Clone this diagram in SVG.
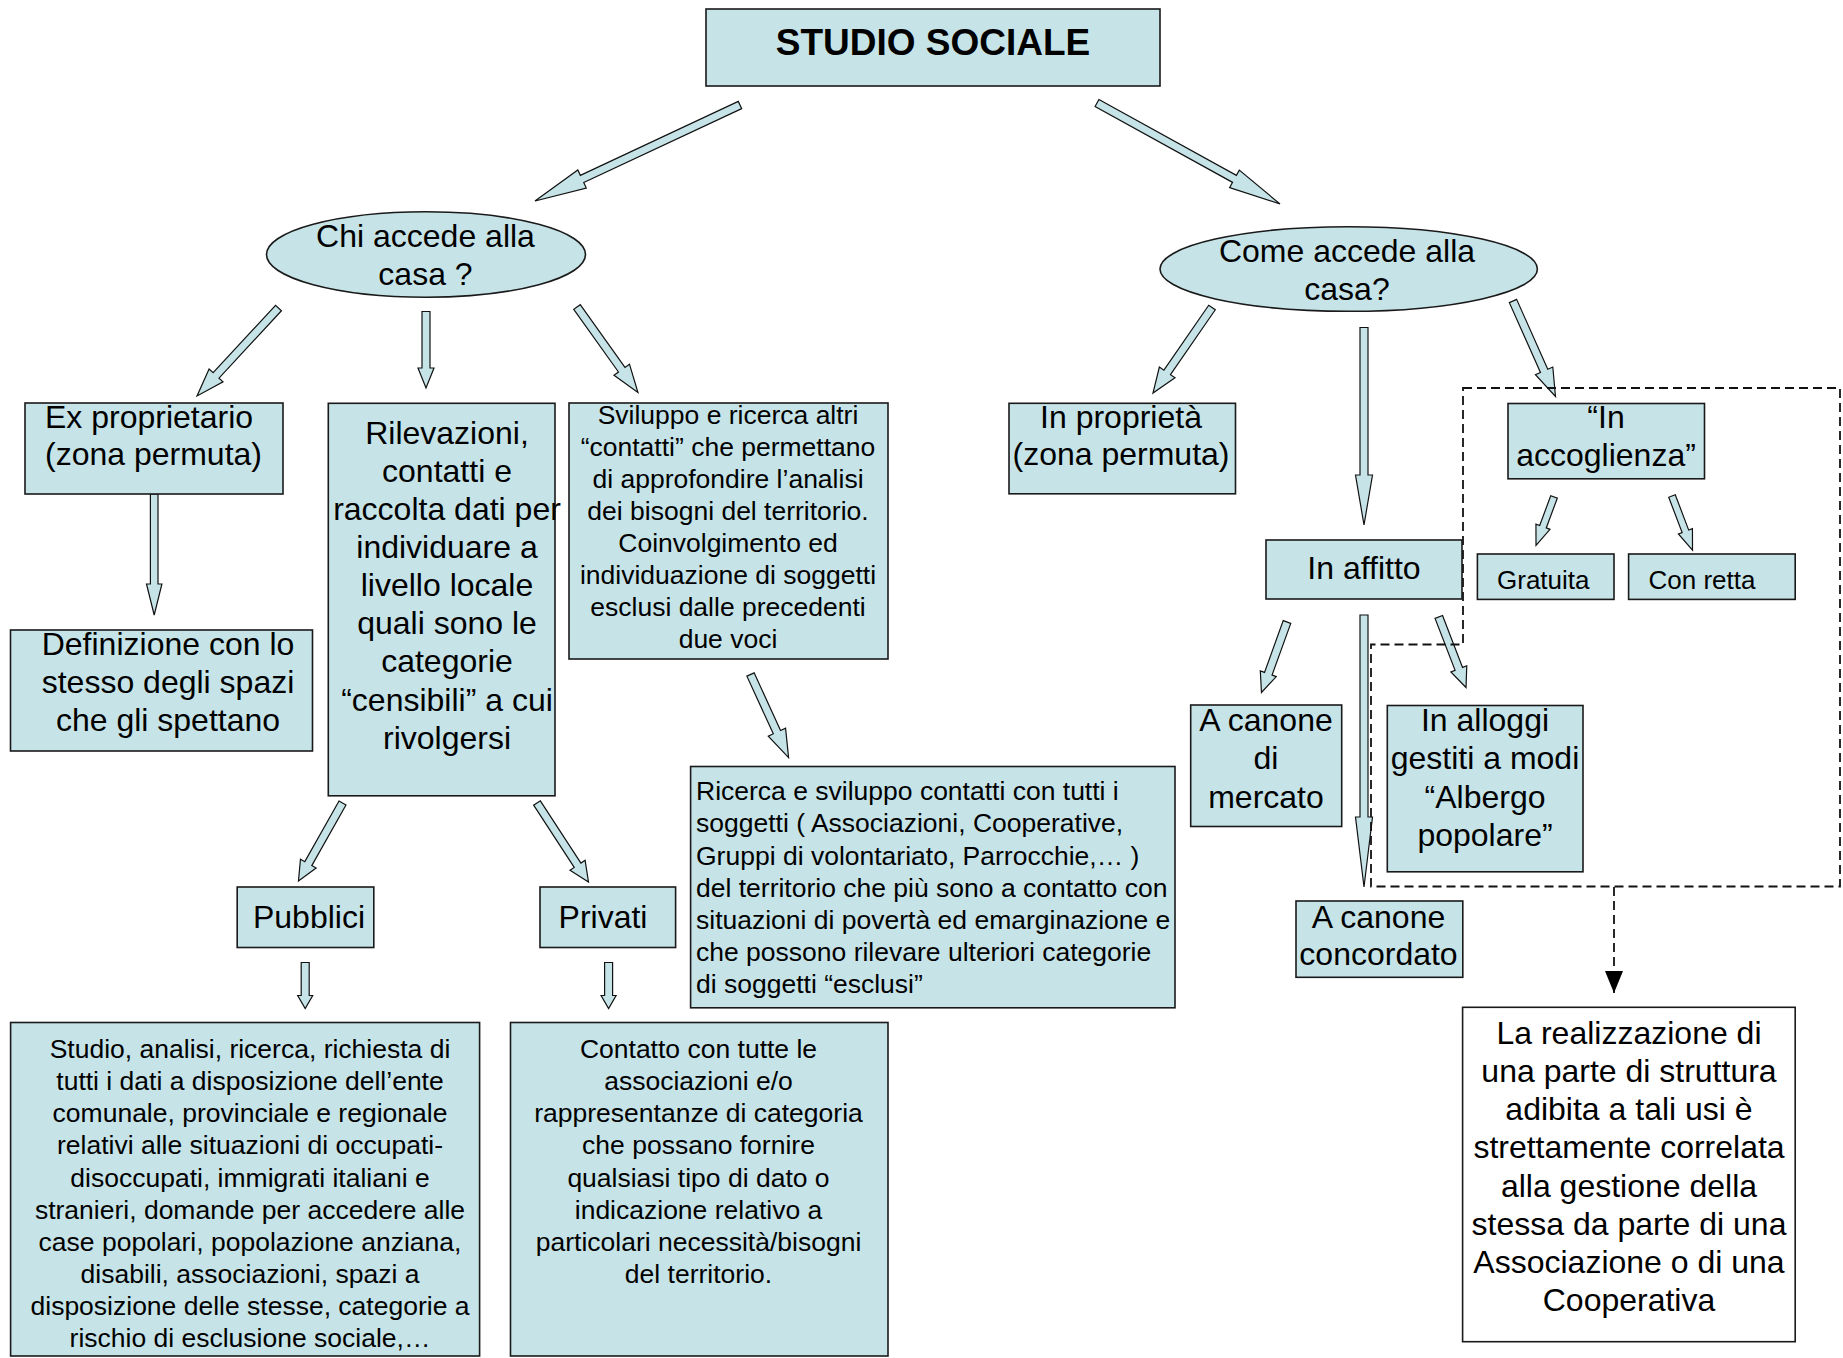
<svg xmlns="http://www.w3.org/2000/svg" width="1843" height="1358" viewBox="0 0 1843 1358">
<defs>
<marker id="blackHead" markerWidth="22" markerHeight="18" refX="22" refY="9" orient="auto" markerUnits="userSpaceOnUse" viewBox="0 0 22 18">
<path d="M0,0 L22,9 L0,18 Z" fill="#000"/>
</marker>
</defs>
<style>
.box{fill:#C6E4E8;stroke:#1a1a1a;stroke-width:1.6}
.boxw{fill:#fff;stroke:#1a1a1a;stroke-width:1.6}
.ell{fill:#C6E4E8;stroke:#1a1a1a;stroke-width:1.6}
.arr{fill:#C6E4E8;stroke:#111;stroke-width:1.2;stroke-linejoin:miter}
.dash{fill:none;stroke:#111;stroke-width:1.8;stroke-dasharray:9 5}
text{font-family:"Liberation Sans",Arial,sans-serif;fill:#000}
.t32{font-size:32px}
.t26{font-size:26.5px}
.t26b{font-size:26px}
.c{text-anchor:middle}
.title{font-size:37px;font-weight:bold}
</style>
<rect width="1843" height="1358" fill="#fff"/>

<g id="connectors">
<path class="arr" transform="translate(740,105) rotate(154.91)" d="M0,-4H174.4V-10L226.4,0L174.4,10V4H0Z"/>
<path class="arr" transform="translate(1097,103) rotate(28.89)" d="M0,-4H157V-10L209,0L157,10V4H0Z"/>
<path class="arr" transform="translate(278.5,308) rotate(132.8)" d="M0,-4H91.9V-9.5L119.9,0L91.9,9.5V4H0Z"/>
<path class="arr" transform="translate(426,311.5) rotate(90)" d="M0,-4H56.5V-8L76.5,0L56.5,8V4H0Z"/>
<path class="arr" transform="translate(577,307) rotate(54.5)" d="M0,-4H77V-9.5L105,0L77,9.5V4H0Z"/>
<path class="arr" transform="translate(154.2,494) rotate(90)" d="M0,-3.8H90V-7.7L121,0L90,7.7V3.8H0Z"/>
<path class="arr" transform="translate(342.5,803) rotate(119.43)" d="M0,-4H69.6V-9L89.6,0L69.6,9V4H0Z"/>
<path class="arr" transform="translate(537,803) rotate(56.9)" d="M0,-4H74.3V-9L94.3,0L74.3,9V4H0Z"/>
<path class="arr" transform="translate(750.5,674.5) rotate(65.37)" d="M0,-4H63.4V-9.5L91.4,0L63.4,9.5V4H0Z"/>
<path class="arr" transform="translate(305.2,962.5) rotate(90)" d="M0,-4H33V-7.5L46,0L33,7.5V4H0Z"/>
<path class="arr" transform="translate(608.6,962.5) rotate(90)" d="M0,-4H33V-7.5L46,0L33,7.5V4H0Z"/>
<path class="arr" transform="translate(1212,307.5) rotate(124.61)" d="M0,-4H78.9V-9.5L103.9,0L78.9,9.5V4H0Z"/>
<path class="arr" transform="translate(1364,327.5) rotate(90)" d="M0,-4H147.5V-8.5L197.5,0L147.5,8.5V4H0Z"/>
<path class="arr" transform="translate(1513,301) rotate(66)" d="M0,-4H76.5V-9.5L104.5,0L76.5,9.5V4H0Z"/>
<path class="arr" transform="translate(1554,497) rotate(110.36)" d="M0,-3.5H31.7V-7.5L51.7,0L31.7,7.5V3.5H0Z"/>
<path class="arr" transform="translate(1672,496) rotate(69.2)" d="M0,-3.5H37.8V-7.5L57.8,0L37.8,7.5V3.5H0Z"/>
<path class="arr" transform="translate(1287,622) rotate(109.89)" d="M0,-4H55V-8.5L75,0L55,8.5V4H0Z"/>
<path class="arr" transform="translate(1364,615) rotate(90)" d="M0,-4H202V-8.5L272,0L202,8.5V4H0Z"/>
<path class="arr" transform="translate(1438.8,617) rotate(68.9)" d="M0,-4H55.6V-8.5L75.6,0L55.6,8.5V4H0Z"/>
<path class="dash" d="M1614,887 V993" marker-end="url(#blackHead)"/>
</g>

<g id="group-boundary">
<path class="dash" d="M1463,388 H1840 V886.5 H1371 V644.5 H1463 Z"/>
</g>

<g id="node-studio-sociale">
<rect class="box" x="706" y="9" width="454" height="77"/>
<text class="title c" x="933" y="55">STUDIO SOCIALE</text>
</g>

<g id="node-chi-accede">
<ellipse class="ell" cx="426" cy="254.5" rx="159.5" ry="42.7"/>
<text class="t32 c" x="425.5" y="247">Chi accede alla</text>
<text class="t32 c" x="425.5" y="285">casa ?</text>
</g>

<g id="node-come-accede">
<ellipse class="ell" cx="1348.7" cy="269" rx="188.7" ry="42.3"/>
<text class="t32 c" x="1347" y="261.5">Come accede alla</text>
<text class="t32 c" x="1347" y="299.5">casa?</text>
</g>

<g id="node-ex-proprietario">
<rect class="box" x="25" y="403" width="258" height="91"/>
<text class="t32" x="45" y="428">Ex proprietario</text>
<text class="t32" x="45" y="465">(zona permuta)</text>
</g>

<g id="node-definizione">
<rect class="box" x="10.5" y="630" width="302" height="121"/>
<text class="t32 c" x="168" y="655">Definizione con lo</text>
<text class="t32 c" x="168" y="692.5">stesso degli spazi</text>
<text class="t32 c" x="168" y="730.5">che gli spettano</text>
</g>

<g id="node-rilevazioni">
<rect class="box" x="328.3" y="403.3" width="226.7" height="392.5"/>
<text class="t32 c" x="447" y="444">Rilevazioni,</text>
<text class="t32 c" x="447" y="482">contatti e</text>
<text class="t32 c" x="447" y="520">raccolta dati per</text>
<text class="t32 c" x="447" y="558">individuare a</text>
<text class="t32 c" x="447" y="596">livello locale</text>
<text class="t32 c" x="447" y="634">quali sono le</text>
<text class="t32 c" x="447" y="672">categorie</text>
<text class="t32 c" x="447" y="710.5">“censibili” a cui</text>
<text class="t32 c" x="447" y="749">rivolgersi</text>
</g>

<g id="node-sviluppo">
<rect class="box" x="569" y="403" width="319" height="256"/>
<text class="t26 c" x="728" y="424">Sviluppo e ricerca altri</text>
<text class="t26 c" x="728" y="456">“contatti” che permettano</text>
<text class="t26 c" x="728" y="488">di approfondire l’analisi</text>
<text class="t26 c" x="728" y="519.5">dei bisogni del territorio.</text>
<text class="t26 c" x="728" y="551.5">Coinvolgimento ed</text>
<text class="t26 c" x="728" y="583.5">individuazione di soggetti</text>
<text class="t26 c" x="728" y="615.5">esclusi dalle precedenti</text>
<text class="t26 c" x="728" y="647.5">due voci</text>
</g>

<g id="node-ricerca">
<rect class="box" x="690.6" y="766.5" width="484.4" height="241.3"/>
<text class="t26" x="696" y="800">Ricerca e sviluppo contatti con tutti i</text>
<text class="t26" x="696" y="832">soggetti ( Associazioni, Cooperative,</text>
<text class="t26" x="696" y="864.5">Gruppi di volontariato, Parrocchie,… )</text>
<text class="t26" x="696" y="896.5">del territorio che più sono a contatto con</text>
<text class="t26" x="696" y="928.5">situazioni di povertà ed emarginazione e</text>
<text class="t26" x="696" y="960.5">che possono rilevare ulteriori categorie</text>
<text class="t26" x="696" y="992.5">di soggetti “esclusi”</text>
</g>

<g id="node-pubblici">
<rect class="box" x="237.2" y="887" width="136.6" height="60.5"/>
<text class="t32 c" x="309" y="927.5">Pubblici</text>
</g>

<g id="node-privati">
<rect class="box" x="540" y="887" width="135.6" height="60.5"/>
<text class="t32 c" x="603" y="927.5">Privati</text>
</g>

<g id="node-studio-analisi">
<rect class="box" x="10.6" y="1022.5" width="469" height="333.5"/>
<text class="t26 c" x="250" y="1058">Studio, analisi, ricerca, richiesta di</text>
<text class="t26 c" x="250" y="1090.2">tutti i dati a disposizione dell’ente</text>
<text class="t26 c" x="250" y="1122.3">comunale, provinciale e regionale</text>
<text class="t26 c" x="250" y="1154.4">relativi alle situazioni di occupati-</text>
<text class="t26 c" x="250" y="1186.5">disoccupati, immigrati italiani e</text>
<text class="t26 c" x="250" y="1218.6">stranieri, domande per accedere alle</text>
<text class="t26 c" x="250" y="1250.7">case popolari, popolazione anziana,</text>
<text class="t26 c" x="250" y="1282.8">disabili, associazioni, spazi a</text>
<text class="t26 c" x="250" y="1314.9">disposizione delle stesse, categorie a</text>
<text class="t26 c" x="250" y="1347">rischio di esclusione sociale,…</text>
</g>

<g id="node-contatto">
<rect class="box" x="510.5" y="1022.5" width="377.5" height="333.5"/>
<text class="t26 c" x="698.5" y="1058">Contatto con tutte le</text>
<text class="t26 c" x="698.5" y="1090.2">associazioni e/o</text>
<text class="t26 c" x="698.5" y="1122.3">rappresentanze di categoria</text>
<text class="t26 c" x="698.5" y="1154.4">che possano fornire</text>
<text class="t26 c" x="698.5" y="1186.5">qualsiasi tipo di dato o</text>
<text class="t26 c" x="698.5" y="1218.6">indicazione relativo a</text>
<text class="t26 c" x="698.5" y="1250.7">particolari necessità/bisogni</text>
<text class="t26 c" x="698.5" y="1282.8">del territorio.</text>
</g>

<g id="node-in-proprieta">
<rect class="box" x="1009" y="403.3" width="226.5" height="90.5"/>
<text class="t32 c" x="1121" y="428">In proprietà</text>
<text class="t32 c" x="1121" y="465">(zona permuta)</text>
</g>

<g id="node-in-affitto">
<rect class="box" x="1266" y="540" width="196" height="59"/>
<text class="t32 c" x="1364" y="579">In affitto</text>
</g>

<g id="node-in-accoglienza">
<rect class="box" x="1508" y="403.5" width="196.5" height="75.3"/>
<text class="t32 c" x="1606" y="428">“In</text>
<text class="t32 c" x="1606" y="465.5">accoglienza”</text>
</g>

<g id="node-gratuita">
<rect class="box" x="1477.4" y="554" width="136.6" height="45.4"/>
<text class="t26b" x="1497" y="589">Gratuita</text>
</g>

<g id="node-con-retta">
<rect class="box" x="1628.6" y="554" width="166.6" height="45.4"/>
<text class="t26b" x="1648.5" y="589">Con retta</text>
</g>

<g id="node-canone-mercato">
<rect class="box" x="1190.7" y="705" width="151" height="121.5"/>
<text class="t32 c" x="1266" y="730.5">A canone</text>
<text class="t32 c" x="1266" y="769">di</text>
<text class="t32 c" x="1266" y="807.5">mercato</text>
</g>

<g id="node-alloggi">
<rect class="box" x="1387.3" y="705.5" width="195.7" height="166.3"/>
<text class="t32 c" x="1485" y="730.5">In alloggi</text>
<text class="t32 c" x="1485" y="769">gestiti a modi</text>
<text class="t32 c" x="1485" y="807.5">“Albergo</text>
<text class="t32 c" x="1485" y="846">popolare”</text>
</g>

<g id="node-canone-concordato">
<rect class="box" x="1296" y="901" width="166.8" height="76.3"/>
<text class="t32 c" x="1378.5" y="927.5">A canone</text>
<text class="t32 c" x="1378.5" y="965">concordato</text>
</g>

<g id="node-realizzazione">
<rect class="boxw" x="1462.6" y="1007.3" width="332.6" height="334.4"/>
<text class="t32 c" x="1629" y="1043.5">La realizzazione di</text>
<text class="t32 c" x="1629" y="1082">una parte di struttura</text>
<text class="t32 c" x="1629" y="1120">adibita a tali usi è</text>
<text class="t32 c" x="1629" y="1158.3">strettamente correlata</text>
<text class="t32 c" x="1629" y="1196.5">alla gestione della</text>
<text class="t32 c" x="1629" y="1234.8">stessa da parte di una</text>
<text class="t32 c" x="1629" y="1273">Associazione o di una</text>
<text class="t32 c" x="1629" y="1311">Cooperativa</text>
</g>
</svg>
